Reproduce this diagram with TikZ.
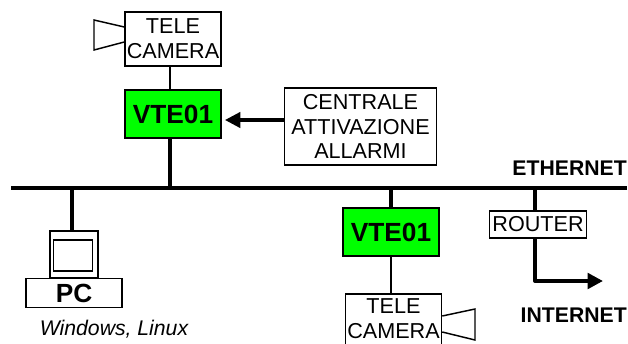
\documentclass[tikz,border=0pt]{standalone}
\usepackage{fontspec}
\setmainfont{Liberation Sans}
\usetikzlibrary{arrows.meta}
\tikzset{
	boxnode/.style={draw, line width=1.1pt, inner sep=0pt, align=center, font=\fontsize{16.2}{18.5}\selectfont},
	vtenode/.style={boxnode, fill=green, minimum width=72pt, minimum height=36pt, font=\fontsize{19.7}{22}\selectfont\bfseries},
	telenode/.style={boxnode, minimum width=72pt, minimum height=40.5pt},
	labelnode/.style={inner sep=0pt, font=\fontsize{15.9}{18.5}\selectfont\bfseries},
	thinline/.style={line width=1.4pt},
	thickline/.style={line width=3pt},
	camshape/.style={line width=1.1pt, line join=miter},
}

\begin{document}
\begin{tikzpicture}[x=0.75pt, y=-0.75pt]
	\useasboundingbox (0,0) rectangle (628,343);
	\clip (0,0) rectangle (628,343);

	% bus
	\coordinate (busL) at (11,187.5);
	\coordinate (busR) at (627,187.5);
	\draw[thickline] (busL) -- (busR);
	\node[labelnode, anchor=east] (ether) at (627,168) {ETHERNET};

	% upper branch
	\node[telenode] (teleA) at (173,39) {TELE\\CAMERA};
	\node[vtenode] (vteA) at (173,114) {VTE01};
	\node[boxnode, minimum width=114pt, minimum height=57.5pt] (centrale) at (360.5,126.5) {CENTRALE\\ATTIVAZIONE\\ALLARMI};
	\draw[camshape] (teleA.west |- 0,27) -- (94,20) -- (94,50) -- (teleA.west |- 0,42);
	\draw[thinline] (teleA.south -| 170,0) -- (vteA.north -| 170,0);
	\draw[thickline] (vteA.south -| 170,0) -- (busL -| 170,0);
	\draw[line width=2.4pt, -{Triangle[length=11.5pt, width=11.5pt]}] (centrale.west |- 0,120) -- (225,120);

	% pc
	\node[draw, line width=1.1pt, minimum width=36pt, minimum height=35.5pt, inner sep=0pt] (monitor) at (74,254.5) {};
	\node[draw, line width=1.1pt, minimum width=29pt, minimum height=23pt, inner sep=0pt] (screen) at (73,255.5) {};
	\node[boxnode, minimum width=72pt, minimum height=22pt, font=\fontsize{19.7}{22}\selectfont\bfseries] (pc) at (74,293) {PC};
	\node[inner sep=0pt, font=\fontsize{15.9}{18.5}\selectfont\itshape] (os) at (114,329) {Windows, Linux};
	\draw[thickline] (busL -| 72,0) -- (monitor.north -| 72,0);

	% lower branch
	\node[vtenode] (vteB) at (391,232) {VTE01};
	\node[telenode] (teleB) at (393.5,321) {TELE\\CAMERA\rule[-3.8pt]{0pt}{3.8pt}};
	\draw[camshape] (teleB.east |- 0,316) -- (475,309) -- (475,340) -- (teleB.east |- 0,332);
	\draw[thickline] (busL -| 391,0) -- (vteB.north);
	\draw[thinline] (vteB.south) -- (teleB.north -| vteB.south);

	% router
	\node[boxnode, minimum width=73pt, minimum height=20pt] (router) at (538,224.5) {ROUTER};
	\coordinate (corner) at (535,281);
	\coordinate (tip) at (603,281);
	\node[labelnode, anchor=east] (inter) at (627,315) {INTERNET};
	\draw[thickline] (busL -| corner) -- (router.north -| corner);
	\draw[thickline, line join=round, -{Triangle[length=11.5pt, width=11.5pt]}] (router.south -| corner) -- (corner) -- (tip);
\end{tikzpicture}
\end{document}
